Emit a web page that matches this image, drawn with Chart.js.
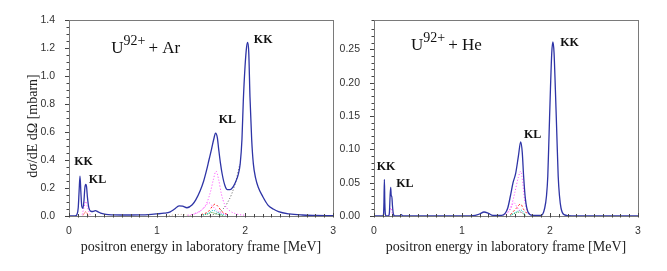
<!DOCTYPE html>
<html>
<head>
<meta charset="utf-8">
<script src="https://cdn.jsdelivr.net/npm/chart.js@4.4.1/dist/chart.umd.min.js"></script>
<style>
  html, body { margin: 0; padding: 0; background: #fff; }
  #wrap { position: relative; width: 667px; height: 271px; }
  canvas { position: absolute; top: 0; }
  #arChart { left: 0; }
  #heChart { left: 337px; }
</style>
</head>
<body>
<div id="wrap">
  <canvas id="arChart" width="337" height="271"></canvas>
  <canvas id="heChart" width="330" height="271"></canvas>
</div>
<script>
// ---- U92+ + Ar : total spectrum and partial contributions (mbarn) ----
const arEnergy = [0, 0.07, 0.09, 0.105, 0.115, 0.125, 0.135, 0.145, 0.158, 0.17, 0.18, 0.19, 0.198, 0.21, 0.225, 0.245, 0.27, 0.3, 0.33, 0.37, 0.42, 0.5, 0.6, 0.7, 0.8, 0.9, 1.0, 1.08, 1.15, 1.2, 1.25, 1.29, 1.34, 1.4, 1.44, 1.49, 1.53, 1.56, 1.59, 1.62, 1.645, 1.665, 1.685, 1.7, 1.72, 1.74, 1.77, 1.8, 1.83, 1.86, 1.89, 1.92, 1.945, 1.965, 1.98, 2.0, 2.018, 2.03, 2.042, 2.056, 2.075, 2.094, 2.12, 2.15, 2.2, 2.26, 2.32, 2.38, 2.5, 2.65, 2.8, 3.0];
const arTotal = [0, 0, 0.01, 0.06, 0.18, 0.285, 0.17, 0.07, 0.055, 0.11, 0.2, 0.225, 0.215, 0.13, 0.06, 0.035, 0.032, 0.038, 0.03, 0.018, 0.011, 0.008, 0.007, 0.007, 0.008, 0.01, 0.015, 0.02, 0.03, 0.05, 0.073, 0.07, 0.059, 0.08, 0.115, 0.18, 0.25, 0.32, 0.4, 0.48, 0.55, 0.592, 0.56, 0.48, 0.38, 0.3, 0.22, 0.188, 0.188, 0.205, 0.24, 0.29, 0.374, 0.55, 0.82, 1.07, 1.21, 1.24, 1.17, 0.85, 0.55, 0.374, 0.27, 0.205, 0.14, 0.078, 0.05, 0.031, 0.015, 0.007, 0.004, 0.002];

const arKlE = [1.35, 1.45, 1.52, 1.57, 1.61, 1.64, 1.67, 1.7, 1.73, 1.77, 1.82, 1.9, 2.0];
const arKl = [0.005, 0.02, 0.05, 0.1, 0.18, 0.26, 0.32, 0.26, 0.16, 0.08, 0.04, 0.015, 0.005];
const arKl2E = [1.4, 1.5, 1.55, 1.59, 1.63, 1.7, 1.8];
const arKl2 = [0.01, 0.04, 0.07, 0.095, 0.07, 0.03, 0.01];
const arRedE = [1.5, 1.58, 1.63, 1.66, 1.69, 1.74, 1.8];
const arRed = [0.01, 0.03, 0.07, 0.085, 0.07, 0.03, 0.01];
const arCyanE = [1.5, 1.58, 1.64, 1.7, 1.78];
const arCyan = [0.005, 0.02, 0.04, 0.02, 0.005];
const arGreenE = [1.5, 1.58, 1.62, 1.67, 1.75];
const arGreen = [0.004, 0.015, 0.025, 0.015, 0.004];
const arKkTailE = [1.6, 1.65, 1.7, 1.75, 1.8, 1.85, 1.9, 1.94];
const arKkTail = [0.004, 0.012, 0.025, 0.05, 0.095, 0.16, 0.26, 0.37];
const arBumpE = [1.1, 1.2, 1.26, 1.32, 1.4];
const arBump = [0.002, 0.008, 0.012, 0.008, 0.002];
const arLowE = [0.15, 0.17, 0.19, 0.21, 0.24];
const arLow = [0.01, 0.06, 0.105, 0.06, 0.01];
const arLowRedE = [0.16, 0.19, 0.22];
const arLowRed = [0.005, 0.03, 0.005];

// ---- U92+ + He ----
const heEnergy = [0, 0.1, 0.108, 0.113, 0.118, 0.123, 0.13, 0.14, 0.165, 0.175, 0.183, 0.19, 0.196, 0.202, 0.21, 0.22, 0.235, 0.29, 0.31, 0.33, 0.5, 1.0, 1.15, 1.2, 1.25, 1.3, 1.35, 1.45, 1.49, 1.52, 1.55, 1.58, 1.61, 1.64, 1.667, 1.685, 1.7, 1.72, 1.75, 1.8, 1.9, 1.94, 1.96, 1.975, 1.99, 2.005, 2.02, 2.033, 2.046, 2.061, 2.077, 2.093, 2.108, 2.125, 2.16, 2.25, 3.0];
const heTotal = [0, 0, 0.002, 0.02, 0.055, 0.02, 0.002, 0, 0, 0.005, 0.03, 0.043, 0.03, 0.03, 0.015, 0.003, 0, 0, 0.002, 0, 0, 0, 0.001, 0.003, 0.006, 0.004, 0.001, 0.001, 0.004, 0.012, 0.03, 0.05, 0.064, 0.089, 0.111, 0.095, 0.06, 0.026, 0.006, 0.001, 0.001, 0.012, 0.03, 0.06, 0.125, 0.19, 0.245, 0.261, 0.245, 0.19, 0.125, 0.06, 0.03, 0.012, 0.002, 0, 0];

const heKlE = [1.5, 1.56, 1.6, 1.64, 1.667, 1.69, 1.71, 1.74, 1.8];
const heKl = [0.002, 0.015, 0.035, 0.058, 0.067, 0.05, 0.025, 0.008, 0.001];
const heKl2E = [1.5, 1.55, 1.59, 1.63, 1.7];
const heKl2 = [0.002, 0.01, 0.02, 0.012, 0.002];
const heRedE = [1.55, 1.62, 1.665, 1.7, 1.75];
const heRed = [0.002, 0.012, 0.018, 0.01, 0.002];
const heCyanE = [1.55, 1.63, 1.67, 1.72];
const heCyan = [0.001, 0.007, 0.009, 0.002];
const heGreenE = [1.55, 1.62, 1.66, 1.72];
const heGreen = [0.001, 0.005, 0.006, 0.001];
const heLowE = [0.17, 0.19, 0.21];
const heLow = [0.001, 0.012, 0.002];

const xTitle = "positron energy in laboratory frame [MeV]";
const yTitle = "dσ/dE dΩ [mbarn]";

const pts = (xs, ys) => xs.map((x, i) => ({ x: x, y: ys[i] }));
const near = (v, step) => Math.abs(v / step - Math.round(v / step)) < 1e-6;

function line(data, color, dash, width) {
  return {
    data: data,
    borderColor: color,
    borderWidth: width || 1,
    borderDash: dash || [],
    pointRadius: 0,
    fill: false,
    cubicInterpolationMode: "monotone",
  };
}

// frame, tick marks and text labels
const decor = {
  id: "decor",
  afterDraw(chart, args, opts) {
    const { ctx, chartArea: a, scales } = chart;
    ctx.save();
    ctx.strokeStyle = "#7a7a7a";
    ctx.lineWidth = 1;
    ctx.strokeRect(Math.round(a.left) + 0.5, Math.round(a.top) + 0.5, Math.round(a.right - a.left), Math.round(a.bottom - a.top));
    ctx.strokeStyle = "#444";
    ctx.beginPath();
    scales.y.ticks.forEach((t) => {
      const py = Math.round(scales.y.getPixelForValue(t.value)) + 0.5;
      const len = t.label !== "" ? 4 : 2.5;
      ctx.moveTo(a.left, py);
      ctx.lineTo(a.left - len, py);
    });
    scales.x.ticks.forEach((t) => {
      const px = Math.round(scales.x.getPixelForValue(t.value)) + 0.5;
      const len = t.label !== "" ? 3 : 2;
      ctx.moveTo(px, a.bottom - len);
      ctx.lineTo(px, a.bottom + 1.5);
    });
    ctx.stroke();

    ctx.fillStyle = "#111";
    ctx.textBaseline = "middle";
    ctx.textAlign = "center";
    ctx.font = "bold 12px 'Liberation Serif'";
    (opts.peaks || []).forEach((p) => {
      ctx.fillText(p.text, scales.x.getPixelForValue(p.x), scales.y.getPixelForValue(p.y));
    });

    if (opts.ion) {
      let px = scales.x.getPixelForValue(opts.ion.x);
      const py = scales.y.getPixelForValue(opts.ion.y);
      ctx.textAlign = "left";
      ctx.textBaseline = "alphabetic";
      ctx.font = "17px 'Liberation Serif'";
      ctx.fillText("U", px, py);
      px += ctx.measureText("U").width;
      ctx.font = "14px 'Liberation Serif'";
      ctx.fillText("92+", px, py - 8);
      px += ctx.measureText("92+").width + 3;
      ctx.font = "17px 'Liberation Serif'";
      ctx.fillText("+ " + opts.ion.target, px, py);
    }

    if (opts.yTitle) {
      ctx.translate(33, 126);
      ctx.rotate(-Math.PI / 2);
      ctx.textAlign = "center";
      ctx.textBaseline = "middle";
      ctx.font = "14px 'Liberation Serif'";
      ctx.fillStyle = "#222";
      ctx.fillText(opts.yTitle, 0, 0);
    }
    ctx.restore();
  },
};

function makeChart(id, sets, yMax, yStep, yLabelStep, yDigits, yWidth, padRight, decorOpts) {
  return new Chart(document.getElementById(id), {
    type: "line",
    data: { datasets: sets },
    plugins: [decor],
    options: {
      responsive: false,
      animation: false,
      events: [],
      layout: { autoPadding: false, padding: { top: 20, right: padRight, left: 0, bottom: 0 } },
      scales: {
        x: {
          type: "linear",
          min: 0,
          max: 3,
          grid: { display: false },
          border: { display: false },
          ticks: {
            stepSize: 0.1,
            autoSkip: false,
            maxRotation: 0,
            padding: 1,
            color: "#333",
            font: { family: "'Liberation Sans'", size: 10.5 },
            callback: (v) => (near(v, 1) ? String(Math.round(v)) : ""),
          },
          title: {
            display: true,
            text: xTitle,
            color: "#222",
            font: { family: "'Liberation Serif'", size: 14 },
            padding: { top: 0, bottom: 15 },
          },
          afterFit: (s) => { s.height = 55; },
        },
        y: {
          min: 0,
          max: yMax,
          grid: { display: false },
          border: { display: false },
          ticks: {
            stepSize: yStep,
            autoSkip: false,
            padding: 6,
            color: "#333",
            font: { family: "'Liberation Sans'", size: 10.5 },
            callback: (v) => (near(v, yLabelStep) ? v.toFixed(yDigits) : ""),
          },
          afterFit: (s) => { s.width = yWidth; },
        },
      },
      plugins: {
        legend: { display: false },
        tooltip: { enabled: false },
        decor: decorOpts,
      },
    },
  });
}

const blue = "#2e34a6";

makeChart("arChart", [
  line(pts(arEnergy, arTotal), blue, [], 1.3),
  line(pts(arKlE, arKl), "#ff40ff", [1, 2]),
  line(pts(arKl2E, arKl2), "#ff40ff", [1, 2]),
  line(pts(arRedE, arRed), "#ff2020", [2, 2]),
  line(pts(arCyanE, arCyan), "#20c8d0", [1, 1]),
  line(pts(arGreenE, arGreen), "#30a030", [1, 1]),
  line(pts(arKkTailE, arKkTail), "#555555", [1, 2]),
  line(pts(arBumpE, arBump), "#c8b090", [1, 2]),
  line(pts(arLowE, arLow), "#ff40ff", [1, 2]),
  line(pts(arLowRedE, arLowRed), "#ff2020", [1, 1]),
], 1.4, 0.05, 0.2, 1, 69, 2, {
  yTitle: yTitle,
  ion: { x: 0.48, y: 1.164, target: "Ar" },
  peaks: [
    { text: "KK", x: 2.206, y: 1.257 },
    { text: "KL", x: 1.8, y: 0.686 },
    { text: "KK", x: 0.166, y: 0.386 },
    { text: "KL", x: 0.324, y: 0.257 },
  ],
});

makeChart("heChart", [
  line(pts(heEnergy, heTotal), blue, [], 1.3),
  line(pts(heKlE, heKl), "#ff40ff", [1, 2]),
  line(pts(heKl2E, heKl2), "#ff40ff", [1, 2]),
  line(pts(heRedE, heRed), "#ff2020", [2, 2]),
  line(pts(heCyanE, heCyan), "#20c8d0", [1, 1]),
  line(pts(heGreenE, heGreen), "#30a030", [1, 1]),
  line(pts(heLowE, heLow), "#ff40ff", [1, 2]),
], 0.294, 0.01, 0.05, 2, 37, 29, {
  ion: { x: 0.42, y: 0.2485, target: "He" },
  peaks: [
    { text: "KK", x: 2.222, y: 0.259 },
    { text: "KL", x: 1.803, y: 0.121 },
    { text: "KK", x: 0.136, y: 0.0734 },
    { text: "KL", x: 0.351, y: 0.048 },
  ],
});
</script>
</body>
</html>
